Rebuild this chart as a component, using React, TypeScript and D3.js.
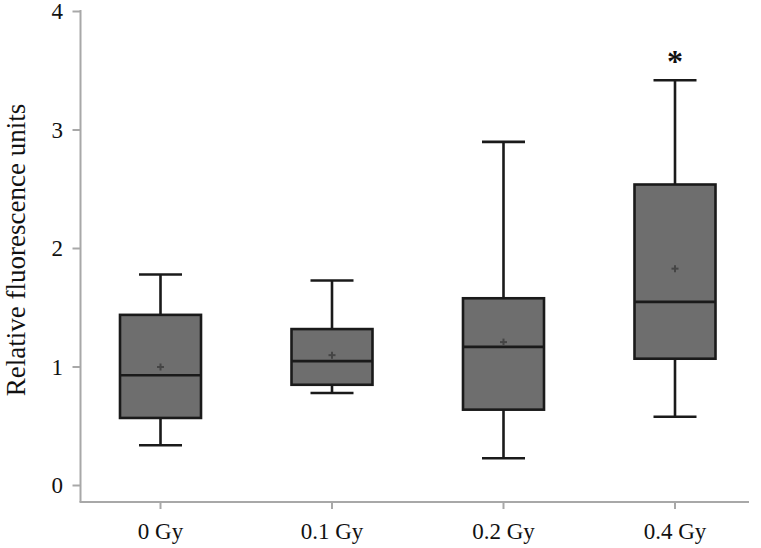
import React from "react";
import * as d3 from "d3";

const categories = ["0 Gy", "0.1 Gy", "0.2 Gy", "0.4 Gy"];
const whiskerLow = [0.34, 0.78, 0.23, 0.58];
const q1 = [0.57, 0.85, 0.64, 1.07];
const median = [0.93, 1.05, 1.17, 1.55];
const q3 = [1.44, 1.32, 1.58, 2.54];
const whiskerHigh = [1.78, 1.73, 2.9, 3.42];
const means = [1.0, 1.1, 1.21, 1.83];
const significant = [false, false, false, true];
const yTicks = [0, 1, 2, 3, 4];

const W = 761;
const H = 548;
const FONT = "'Liberation Serif', 'Times New Roman', serif";

export default function App() {
  const y = d3.scaleLinear().domain([0, 4]).range([485.5, 11.5]);
  const x = d3.scalePoint<string>().domain(categories).range([160.5, 675]);
  const axisX = 80.5;
  const axisY = 502;
  const boxW = 81;
  const capW = 43;
  const axisColor = "#a8a8a8";

  return (
    <svg
      width={W}
      height={H}
      style={{ position: "absolute", left: 0, top: 0, background: "#fff" }}
    >
      {/* y axis */}
      <line x1={axisX} x2={axisX} y1={10} y2={axisY} stroke={axisColor} strokeWidth={2} />
      {yTicks.map((t) => (
        <g key={t}>
          <line x1={axisX - 8} x2={axisX} y1={y(t)} y2={y(t)} stroke={axisColor} strokeWidth={2} />
          <text
            x={63}
            y={y(t)}
            textAnchor="end"
            dominantBaseline="central"
            fontFamily={FONT}
            fontSize={23}
            fill="#111"
          >
            {t}
          </text>
        </g>
      ))}
      <text
        transform={`translate(25,250) rotate(-90)`}
        textAnchor="middle"
        fontFamily={FONT}
        fontSize={27}
        fill="#111"
      >
        Relative fluorescence units
      </text>

      {/* x axis */}
      <line x1={axisX - 1} x2={749} y1={axisY} y2={axisY} stroke={axisColor} strokeWidth={2} />
      {categories.map((c) => (
        <g key={c}>
          <line x1={x(c)!} x2={x(c)!} y1={axisY} y2={axisY + 7} stroke={axisColor} strokeWidth={2} />
          <text
            x={x(c)!}
            y={539}
            textAnchor="middle"
            fontFamily={FONT}
            fontSize={23}
            fill="#111"
          >
            {c}
          </text>
        </g>
      ))}

      {/* boxes */}
      {categories.map((c, i) => {
        const cx = x(c)!;
        return (
          <g key={c} stroke="#1a1a1a" strokeWidth={2.6}>
            <line x1={cx} x2={cx} y1={y(whiskerHigh[i])} y2={y(q3[i])} />
            <line x1={cx} x2={cx} y1={y(q1[i])} y2={y(whiskerLow[i])} />
            <line x1={cx - capW / 2} x2={cx + capW / 2} y1={y(whiskerHigh[i])} y2={y(whiskerHigh[i])} />
            <line x1={cx - capW / 2} x2={cx + capW / 2} y1={y(whiskerLow[i])} y2={y(whiskerLow[i])} />
            <rect
              x={cx - boxW / 2}
              y={y(q3[i])}
              width={boxW}
              height={y(q1[i]) - y(q3[i])}
              fill="#6e6e6e"
            />
            <line x1={cx - boxW / 2} x2={cx + boxW / 2} y1={y(median[i])} y2={y(median[i])} />
            <g stroke="#454545" strokeWidth={2}>
              <line x1={cx - 3.5} x2={cx + 3.5} y1={y(means[i])} y2={y(means[i])} />
              <line x1={cx} x2={cx} y1={y(means[i]) - 3.5} y2={y(means[i]) + 3.5} />
            </g>
            {significant[i] && (
              <text
                x={cx}
                y={y(whiskerHigh[i]) - 8}
                textAnchor="middle"
                fontFamily={FONT}
                fontWeight="bold"
                fontSize={32}
                fill="#111"
                stroke="none"
              >
                *
              </text>
            )}
          </g>
        );
      })}
    </svg>
  );
}
